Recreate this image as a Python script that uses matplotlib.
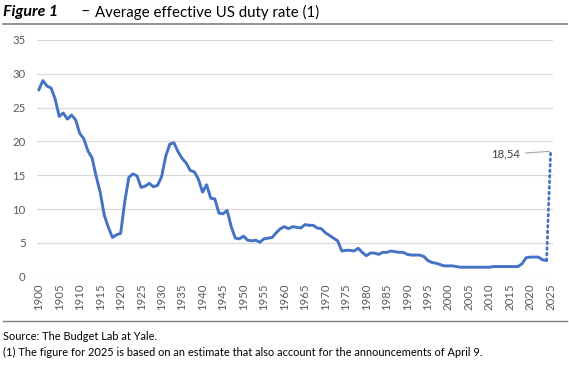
import matplotlib
matplotlib.use("Agg")
import matplotlib.pyplot as plt
from matplotlib.lines import Line2D

years = list(range(1900, 2025))
duty = [27.6, 29.0, 28.2, 27.9, 26.3, 23.7, 24.2, 23.3, 23.9, 23.2,
        21.2, 20.4, 18.6, 17.6, 14.9, 12.5, 9.1, 7.3, 5.8, 6.2,
        6.4, 11.1, 14.7, 15.2, 14.9, 13.2, 13.4, 13.8, 13.3, 13.5,
        14.8, 17.8, 19.6, 19.8, 18.5, 17.5, 16.8, 15.7, 15.5, 14.4,
        12.5, 13.6, 11.6, 11.5, 9.4, 9.3, 9.8, 7.4, 5.7, 5.6,
        6.0, 5.4, 5.3, 5.4, 5.1, 5.6, 5.7, 5.8, 6.5, 7.1,
        7.4, 7.1, 7.4, 7.3, 7.2, 7.7, 7.6, 7.6, 7.2, 7.1,
        6.5, 6.1, 5.7, 5.3, 3.8, 3.9, 3.9, 3.8, 4.2, 3.6,
        3.1, 3.5, 3.5, 3.3, 3.6, 3.6, 3.8, 3.7, 3.6, 3.6,
        3.3, 3.2, 3.2, 3.2, 3.0, 2.4, 2.1, 2.0, 1.8, 1.6,
        1.6, 1.6, 1.5, 1.4, 1.4, 1.4, 1.4, 1.4, 1.4, 1.4,
        1.4, 1.5, 1.5, 1.5, 1.5, 1.5, 1.5, 1.5, 1.9, 2.8,
        2.9, 2.9, 2.9, 2.5, 2.4]
est_years = [2024, 2025]
est_values = [2.4, 18.54]
xtick_labels = [str(y) for y in range(1900, 2026, 5)]
yticks = [0, 5, 10, 15, 20, 25, 30, 35]

FONT = ["Lato", "DejaVu Sans"]
plt.rcParams["font.family"] = FONT
BLUE = "#4472C4"
GREY = "#595959"

fig = plt.figure(figsize=(5.69, 3.73), dpi=100)
ax = fig.add_axes([36.7 / 569, 1 - 276.7 / 373, 516 / 569, 236.7 / 373])

ax.plot(years, duty, color=BLUE, lw=2.1, solid_capstyle="round", zorder=3)
ax.plot(est_years, est_values, color=BLUE, lw=2.0, linestyle=(0, (0.6, 1.4)),
        dash_capstyle="round", zorder=3)

ax.set_xlim(1899.5, 2025.5)
ax.set_ylim(0, 35)
ax.set_yticks(yticks)
ax.set_yticklabels([str(v) for v in yticks])
ax.set_xticks([int(t) for t in xtick_labels])
ax.set_xticklabels(xtick_labels, rotation=90)
ax.tick_params(axis="both", length=0, labelsize=8.2, colors=GREY)
ax.tick_params(axis="y", pad=8)
ax.tick_params(axis="x", pad=5)
ax.grid(axis="y", color="#D9D9D9", lw=0.9)
ax.set_axisbelow(True)
for s in ax.spines.values():
    s.set_visible(False)

# annotation for 2025
ax.annotate("18,54", xy=(est_years[-1], est_values[-1]),
            xytext=(2017.5, 18.1), textcoords="data",
            ha="right", va="center", fontsize=8.2, color="#404040",
            arrowprops=dict(arrowstyle="-", color="#A6A6A6", lw=0.8,
                            shrinkA=2, shrinkB=1))

# title
fig.text(3 / 569, 1 - 12 / 373, "Figure 1", fontsize=11.5, fontweight="bold",
         fontstyle="italic", va="center", ha="left", color="black")
fig.text(80 / 569, 1 - 12 / 373, "–", fontsize=11.5, va="center", ha="left")
fig.text(95 / 569, 1 - 12 / 373, "Average effective US duty rate (1)",
         fontsize=10.8, va="center", ha="left")
fig.add_artist(Line2D([3 / 569, 567 / 569], [1 - 23.5 / 373, 1 - 23.5 / 373],
                      color="#7F7F7F", lw=1.2))
fig.add_artist(Line2D([3 / 569, 567 / 569], [1 - 321 / 373, 1 - 321 / 373],
                      color="#7F7F7F", lw=1.0))

fig.text(3 / 569, 1 - 336 / 373, "Source: The Budget Lab at Yale.",
         fontsize=7.9, va="center", ha="left")
fig.text(3 / 569, 1 - 352 / 373,
         "(1) The figure for 2025 is based on an estimate that also account for the announcements of April 9.",
         fontsize=7.9, va="center", ha="left")

fig.savefig("out.png", dpi=100)
